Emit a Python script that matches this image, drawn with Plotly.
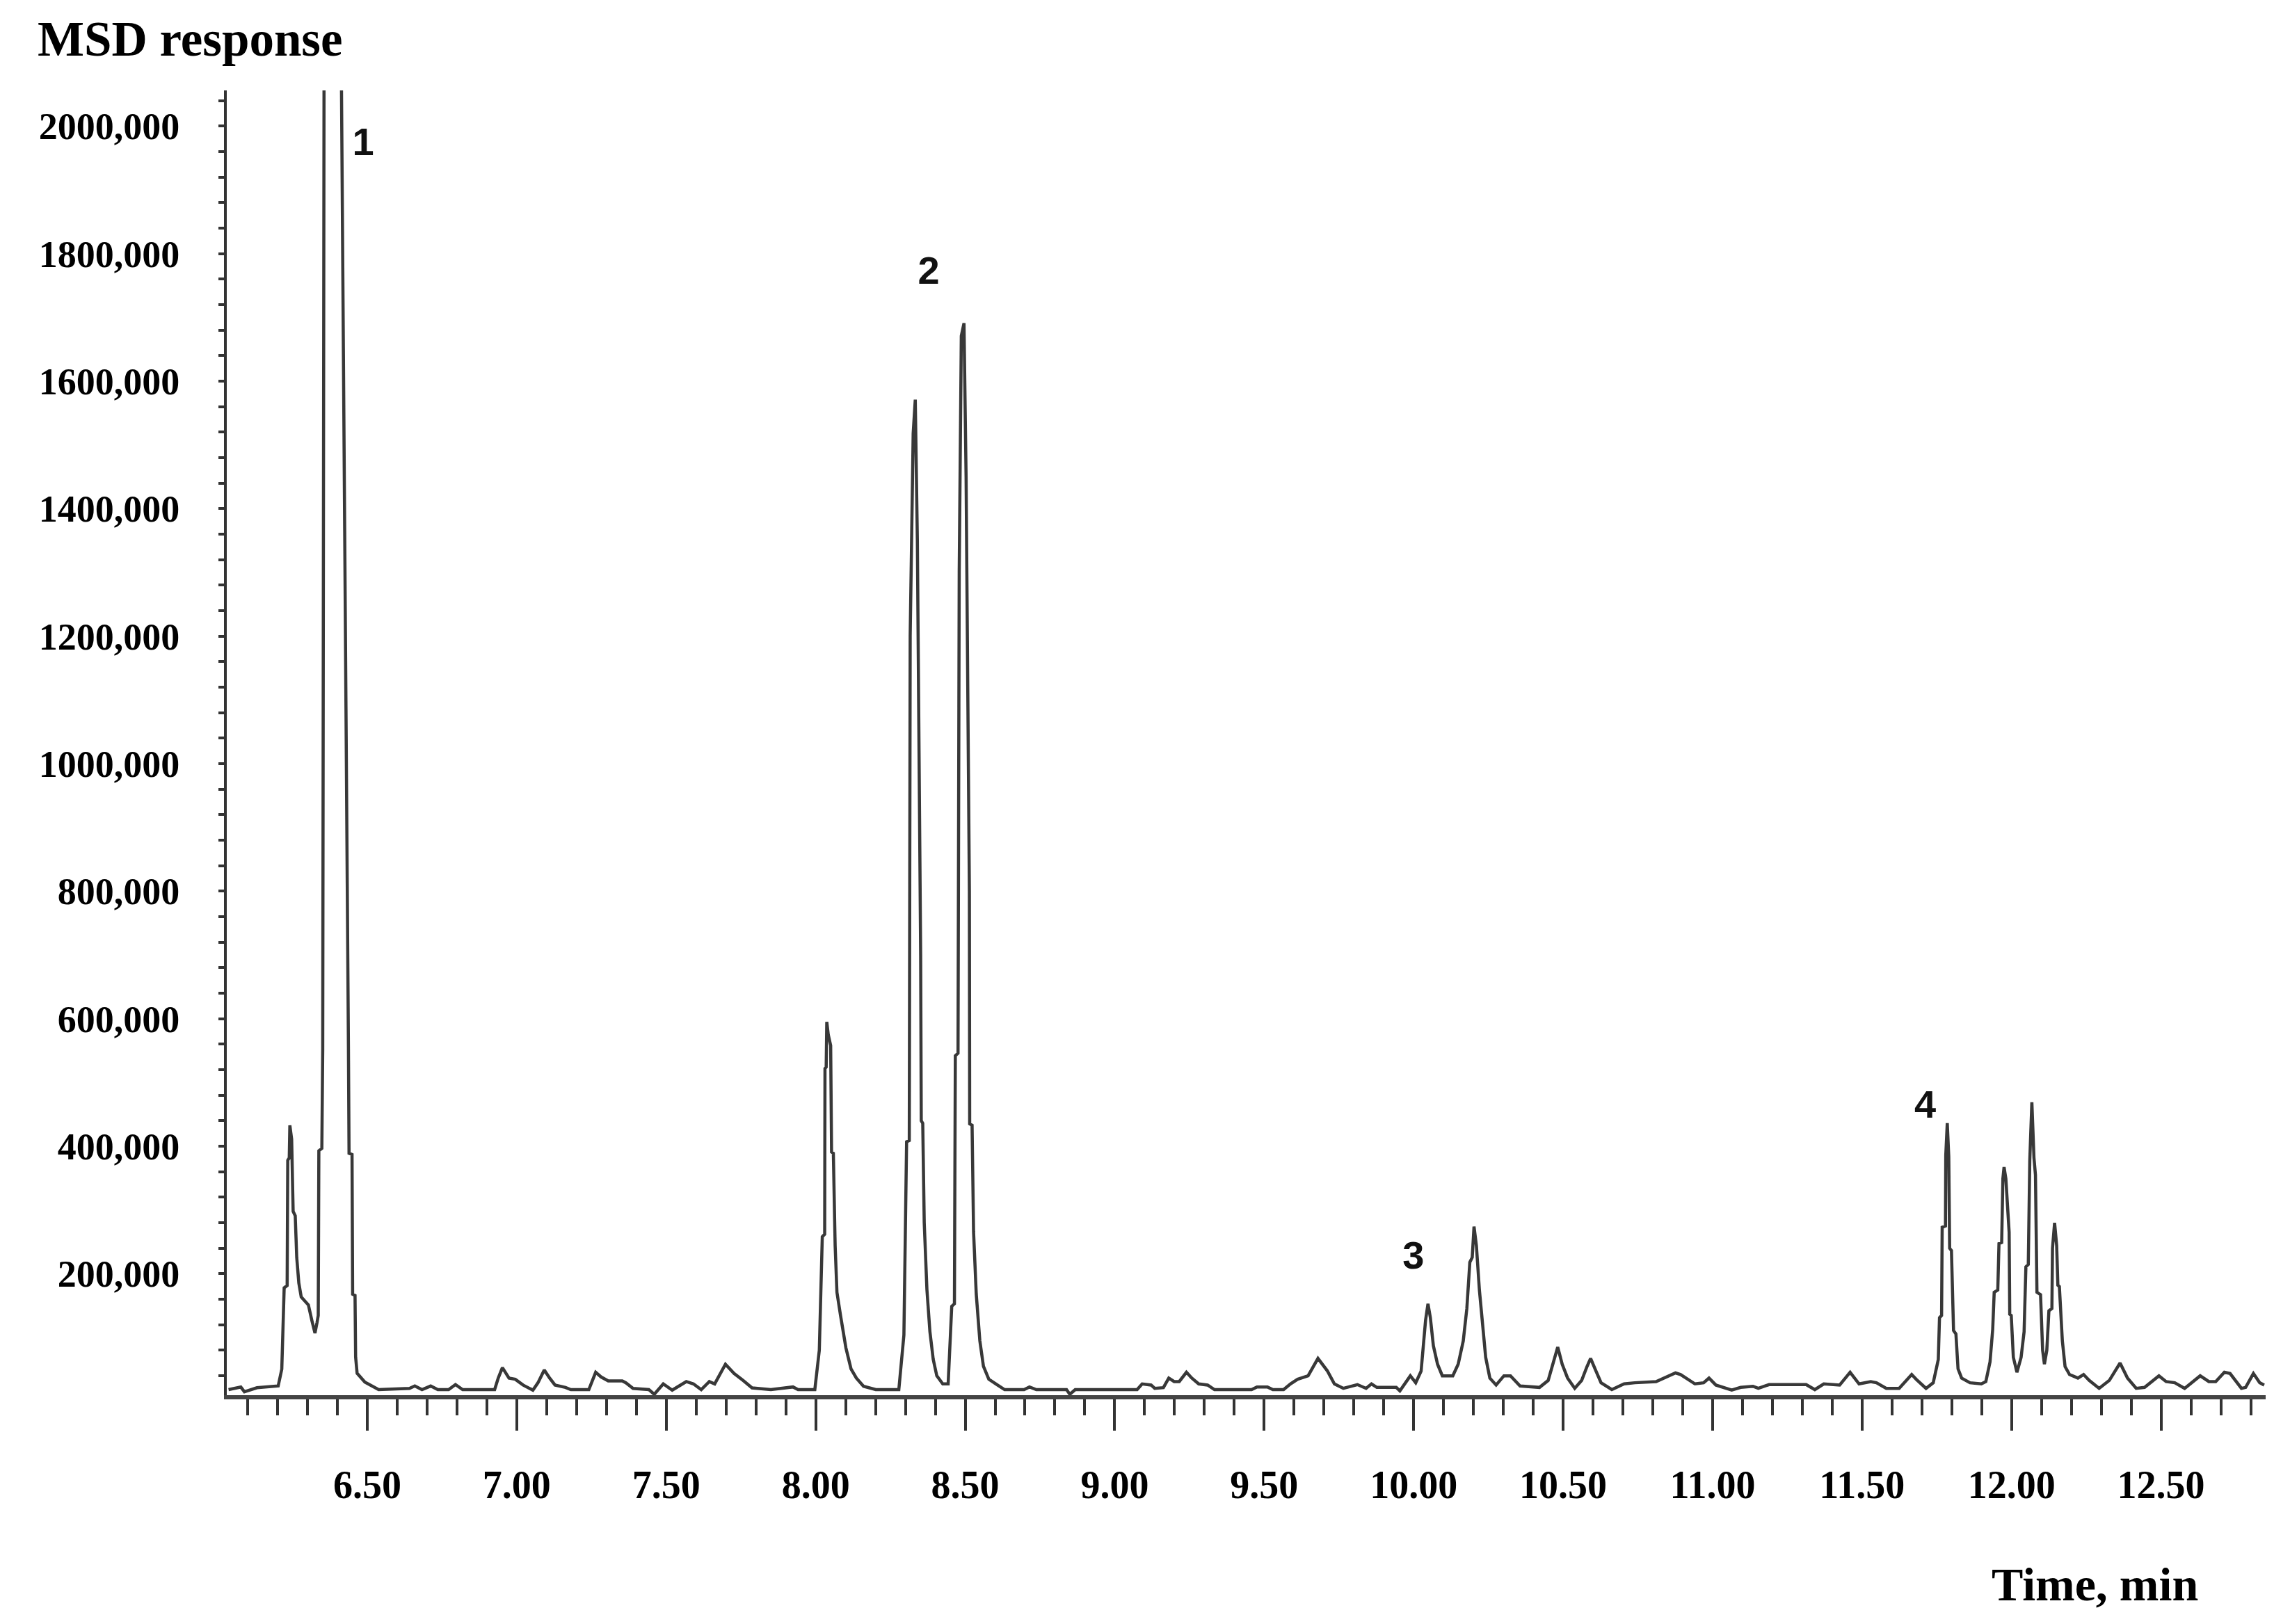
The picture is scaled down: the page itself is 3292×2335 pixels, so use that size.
import plotly.graph_objects as go

# chromatogram (time in min, MSD response)
time_min = [
    6.036, 6.077, 6.089, 6.131, 6.202, 6.214, 6.222, 6.232, 6.234, 6.239,
    6.241, 6.247, 6.252, 6.259, 6.264, 6.271, 6.279, 6.303, 6.315, 6.325,
    6.332, 6.336, 6.338, 6.348, 6.351, 6.356, 6.383, 6.410, 6.437, 6.439,
    6.449, 6.451, 6.459, 6.461, 6.466, 6.492, 6.538, 6.641, 6.659, 6.683,
    6.712, 6.736, 6.772, 6.795, 6.819, 6.926, 6.938, 6.952, 6.974, 6.995,
    7.021, 7.054, 7.071, 7.092, 7.110, 7.128, 7.163, 7.181, 7.241, 7.264,
    7.282, 7.306, 7.353, 7.365, 7.389, 7.442, 7.460, 7.490, 7.520, 7.567,
    7.591, 7.617, 7.644, 7.662, 7.698, 7.727, 7.757, 7.787, 7.850,
    7.912, 7.924, 7.941, 7.997, 8.012, 8.022, 8.030, 8.031, 8.035, 8.037,
    8.042, 8.050, 8.053, 8.059, 8.065, 8.071, 8.083, 8.101, 8.118, 8.136,
    8.160, 8.201, 8.278, 8.295, 8.304, 8.313, 8.316, 8.326, 8.333, 8.340,
    8.351, 8.353, 8.358, 8.363, 8.372, 8.382, 8.393, 8.405, 8.425, 8.443,
    8.455, 8.464, 8.467, 8.476, 8.480, 8.487, 8.496, 8.503, 8.514, 8.515,
    8.523, 8.528, 8.537, 8.549, 8.561, 8.579, 8.608, 8.632, 8.697, 8.715,
    8.738, 8.839, 8.850, 8.868, 9.075, 9.092, 9.122, 9.134, 9.163, 9.181,
    9.199, 9.216, 9.240, 9.258, 9.281, 9.311, 9.334, 9.458, 9.476, 9.511,
    9.529, 9.565, 9.588, 9.612, 9.647, 9.680, 9.711,
    9.735, 9.765, 9.812, 9.841, 9.859, 9.877, 9.942, 9.954, 9.989, 10.007,
    10.025, 10.040, 10.048, 10.056, 10.066, 10.080, 10.096, 10.131, 10.149, 10.166,
    10.178, 10.188, 10.196, 10.202, 10.210, 10.220, 10.231, 10.241, 10.255, 10.276,
    10.302, 10.324, 10.356, 10.421, 10.450, 10.468, 10.482, 10.497, 10.515, 10.539,
    10.562, 10.580, 10.592, 10.610, 10.627, 10.663, 10.704, 10.740, 10.811, 10.876,
    10.893, 10.941, 10.970, 10.988, 11.011, 11.064, 11.094, 11.135, 11.153, 11.189,
    11.313, 11.342, 11.372, 11.425, 11.460, 11.490,
    11.529, 11.548, 11.581, 11.624, 11.666, 11.681, 11.714, 11.738, 11.755, 11.759,
    11.766, 11.768, 11.779, 11.780, 11.785, 11.790, 11.793, 11.799, 11.806, 11.814,
    11.821, 11.833, 11.861, 11.899, 11.914, 11.928, 11.937, 11.942, 11.954, 11.958,
    11.967, 11.971, 11.975, 11.981, 11.992, 11.994, 11.999, 12.006, 12.018, 12.032,
    12.042, 12.048, 12.056, 12.061, 12.068, 12.075, 12.080, 12.085, 12.097, 12.104,
    12.110, 12.118, 12.125, 12.135, 12.137, 12.144, 12.151, 12.155, 12.160, 12.170,
    12.179, 12.194, 12.222, 12.241, 12.260, 12.293, 12.327, 12.363, 12.388, 12.417,
    12.445, 12.493, 12.517, 12.546, 12.579, 12.631, 12.660, 12.683, 12.712, 12.731,
    12.769, 12.783, 12.809, 12.830, 12.845,
]
response = [
    18300, 22300, 15000, 21300, 24200, 50400, 178000, 181600, 378000, 382000,
    432900, 411000, 298000, 291000, 225600, 185600, 163800, 151000, 126000, 107000,
    123800, 134700, 393000, 396600, 553000, 2300000, 3600000, 2300000, 553000, 389000,
    387000, 168000, 166000, 69300, 43900, 30000, 18300, 20300, 24000, 18300,
    24000, 18300, 18300, 26200, 18300, 18300, 36400, 52800, 36400, 34600,
    25500, 17500, 29100, 49100, 36400, 25500, 21800, 18300, 18300, 45500,
    38200, 32000, 32000, 29000, 20300, 18300, 11000, 27300, 17500, 30900,
    27300, 18300, 30900, 27300, 58200, 43600, 32700, 21100, 18300,
    21800, 22500, 18300, 18300, 80000, 258000, 262000, 522000, 524000, 595000,
    575000, 558000, 391000, 389000, 244000, 171000, 134700, 83800, 51000, 36400,
    23600, 18300, 18300, 104000, 407000, 409000, 1200000, 1518000, 1571000, 1350000,
    700000, 440000, 436000, 280000, 175000, 109000, 66000, 40000, 27300, 27300,
    149000, 153000, 542000, 546000, 1300000, 1671000, 1691000, 1450000, 800000, 435000,
    433000, 266000, 168000, 95000, 55000, 34600, 25500, 18300, 18300, 22500,
    18300, 18300, 11000, 18300, 18300, 27300, 25500, 20300, 21400, 36400,
    30900, 30900, 45500, 36400, 27300, 25500, 18300, 18300, 22500, 22500,
    18300, 18300, 27300, 34600, 40000, 67300, 48000,
    27300, 20300, 26200, 20300, 27300, 21800, 21800, 16400, 40000, 29100,
    47300, 127300, 153000, 131000, 87300, 58200, 40000, 40000, 58200, 94600,
    145500, 218000, 225600, 274000, 244000, 174500, 116000, 69000, 36400, 25500,
    40000, 40000, 24000, 21800, 32700, 61800, 85000, 58200, 36400, 20300,
    32700, 54600, 67300, 47300, 29100, 18300, 27300, 29100, 30900, 44500,
    42000, 27300, 29100, 36400, 25500, 17500, 21800, 23600, 20300, 26200,
    26200, 18300, 27300, 25500, 45500, 27300,
    30900, 29100, 20300, 20300, 42000, 34600, 20300, 29100, 65500, 131000,
    134700, 273000, 275000, 385600, 436400, 384000, 240000, 236400, 111000, 105600,
    51000, 36400, 29100, 27300, 30900, 61800, 112700, 171000, 174500, 247300,
    249000, 349000, 367300, 349000, 265000, 136500, 134700, 69000, 45500, 69000,
    109000, 211000, 214600, 378000, 469000, 382000, 355000, 171000, 167300, 80000,
    58200, 80000, 142000, 145500, 240000, 280000, 244000, 182000, 180000, 94600,
    54600, 42000, 36400, 42000, 32700, 20300, 32700, 60000, 36400, 20300,
    21800, 40000, 30900, 29100, 20300, 40000, 30900, 30900, 45500, 43600,
    20300, 21800, 43600, 29100, 25500,
]

y_tick_vals = [200000, 400000, 600000, 800000, 1000000, 1200000, 1400000, 1600000, 1800000, 2000000]
y_tick_text = ['200,000', '400,000', '600,000', '800,000', '1000,000', '1200,000',
               '1400,000', '1600,000', '1800,000', '2000,000']

peak_labels = ['1', '2', '3', '4']
peak_label_x = [6.486, 8.378, 9.999, 11.711]
peak_label_y = [1970000, 1768000, 223800, 460000]

serif = 'Liberation Serif'

fig = go.Figure()
fig.add_trace(
    go.Scatter(x=time_min, y=response, mode='lines', line=dict(color='#383838', width=4.5),
               showlegend=False, hoverinfo='skip')
)
fig.add_trace(
    go.Scatter(x=peak_label_x, y=peak_label_y, mode='text', text=peak_labels,
               textfont=dict(family='Liberation Sans', size=56, color='#111111', weight='bold'),
               showlegend=False, hoverinfo='skip')
)

fig.update_layout(
    width=3292, height=2335,
    margin=dict(l=318, r=43, t=122, b=337),
    paper_bgcolor='white',
    plot_bgcolor='white',
    xaxis=dict(
        range=[6.03, 12.85], tick0=6.5, dtick=0.5, tickformat='.2f',
        ticks='outside', ticklen=45, tickwidth=4, tickcolor='#333333',
        showline=True, linewidth=6, linecolor='#444444',
        showgrid=False, zeroline=False,
        minor=dict(tick0=6.5, dtick=0.1, ticks='outside', ticklen=23, tickwidth=4,
                   tickcolor='#333333', showgrid=False),
        tickfont=dict(family=serif, size=56, color='black', weight='bold'),
        ticklabelstandoff=30,
    ),
    yaxis=dict(
        range=[9600, 2056000], tickmode='array', tickvals=y_tick_vals, ticktext=y_tick_text,
        ticks='outside', ticklen=8, tickwidth=4, tickcolor='#333333',
        showline=True, linewidth=4, linecolor='#333333',
        showgrid=False, zeroline=False,
        minor=dict(tickmode='linear', tick0=0, dtick=40000, ticks='outside', ticklen=8,
                   tickwidth=4, tickcolor='#333333', showgrid=False),
        tickfont=dict(family=serif, size=54, color='black', weight='bold'),
        ticklabelstandoff=45,
    ),
    annotations=[
        dict(text='MSD response', xref='paper', yref='paper', x=-0.0935, y=1.0395,
             xanchor='left', yanchor='middle', showarrow=False,
             font=dict(family=serif, size=71, color='black', weight='bold')),
        dict(text='Time, min', xref='paper', yref='paper', x=0.9164, y=-0.145,
             xanchor='center', yanchor='middle', showarrow=False,
             font=dict(family=serif, size=68, color='black', weight='bold')),
    ],
)

fig.write_html('out.html')
